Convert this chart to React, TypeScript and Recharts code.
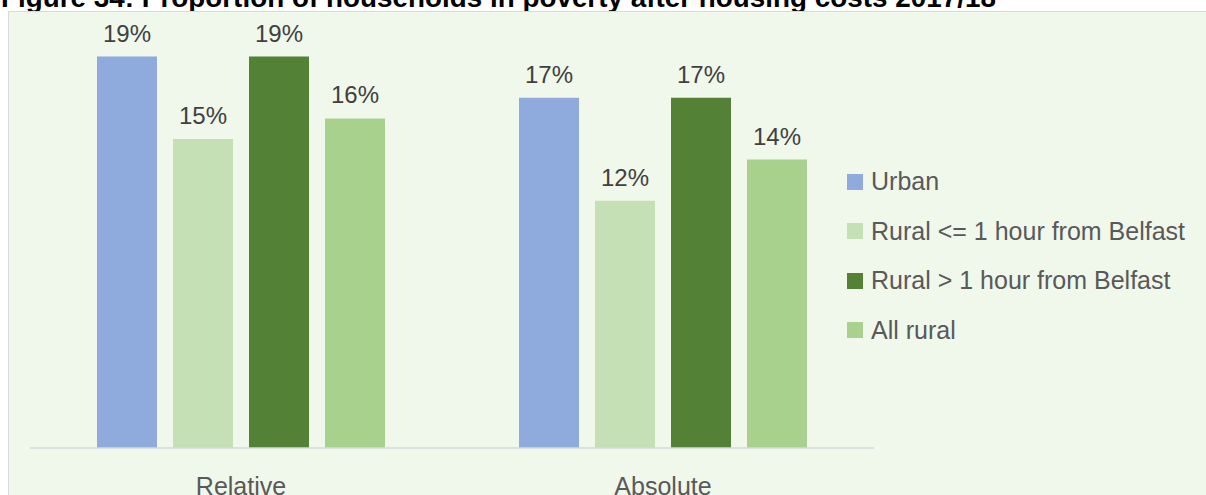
import React from "react";
import { BarChart, Bar, XAxis, YAxis, LabelList } from "recharts";

const categories = ["Relative", "Absolute"];
const urban = [19, 17];
const ruralNear = [15, 12];
const ruralFar = [19, 17];
const allRural = [16, 14];

const seriesNames = [
  "Urban",
  "Rural <= 1 hour from Belfast",
  "Rural > 1 hour from Belfast",
  "All rural",
];
const seriesColors = ["#8FAADC", "#C5E0B4", "#538135", "#A9D18E"];

const data = categories.map((name, i) => ({
  name,
  urban: urban[i],
  ruralNear: ruralNear[i],
  ruralFar: ruralFar[i],
  allRural: allRural[i],
}));

const keys = ["urban", "ruralNear", "ruralFar", "allRural"];
const FONT = "'Liberation Sans', Arial, sans-serif";

// legend is drawn as plain html so it doesn't eat into the plot area
const LegendBox = () => (
  <div
    style={{
      position: "absolute",
      left: 838,
      top: 145,
      fontFamily: FONT,
    }}
  >
    {seriesNames.map((n, i) => (
      <div
        key={n}
        style={{
          display: "flex",
          alignItems: "center",
          height: 49.5,
          fontSize: 25,
          color: "#595959",
          whiteSpace: "nowrap",
        }}
      >
        <span
          style={{
            width: 16,
            height: 16,
            background: seriesColors[i],
            display: "inline-block",
            marginRight: 8,
          }}
        />
        {n}
      </div>
    ))}
  </div>
);

export default function App() {
  return (
    <div
      style={{
        position: "absolute",
        left: 0,
        top: 0,
        width: 1206,
        height: 495,
        overflow: "hidden",
        background: "#fff",
      }}
    >
      <svg width={1206} height={20} style={{ position: "absolute", left: 0, top: 0 }}>
        <text
          x={1}
          y={7}
          fontFamily={FONT}
          fontWeight="bold"
          fontSize={27.8}
          fill="#000"
          textLength={995}
          lengthAdjust="spacing"
        >
          Figure 34: Proportion of households in poverty after housing costs 2017/18
        </text>
      </svg>
      <div
        style={{
          position: "absolute",
          left: 8,
          top: 11,
          width: 1198,
          height: 484,
          boxSizing: "border-box",
          borderTop: "1px solid #D9D9D9",
          borderLeft: "1px solid #D9D9D9",
          background: "#F0F7EB",
        }}
      >
        <BarChart
          width={1197}
          height={483}
          data={data}
          margin={{ top: 24, right: 332, left: 21, bottom: 0 }}
          barSize={60}
          barGap={16}
        >
          <XAxis
            dataKey="name"
            height={47}
            tickLine={false}
            tickSize={0}
            tickMargin={29}
            axisLine={{ stroke: "#D9D9D9", strokeWidth: 1.5 }}
            tick={{ fontSize: 25, fill: "#595959", fontFamily: FONT }}
          />
          <YAxis hide domain={[0, 20]} />
          {keys.map((k, i) => (
            <Bar
              key={k}
              dataKey={k}
              name={seriesNames[i]}
              fill={seriesColors[i]}
              isAnimationActive={false}
            >
              <LabelList
                dataKey={k}
                position="top"
                offset={15}
                formatter={(v: any) => `${v}%`}
                style={{ fontSize: 24, fill: "#404040", fontFamily: FONT }}
              />
            </Bar>
          ))}
        </BarChart>
        <LegendBox />
      </div>
    </div>
  );
}
